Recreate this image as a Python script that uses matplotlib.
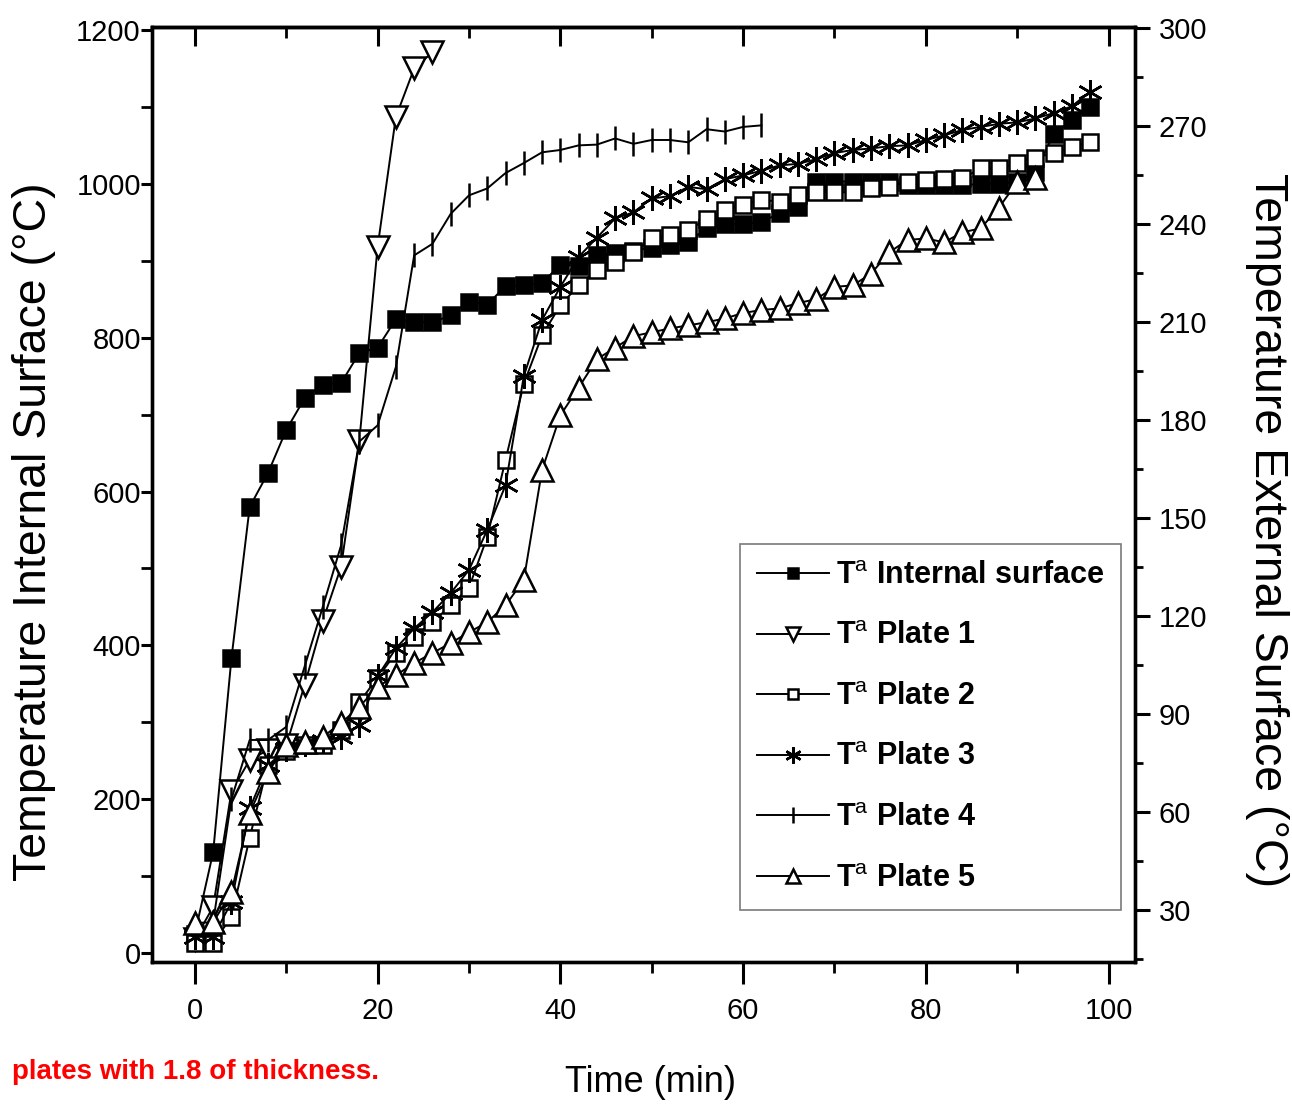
import matplotlib
matplotlib.use("Agg")
import matplotlib.pyplot as plt
from matplotlib.ticker import MultipleLocator

# time axis (min), one reading every 2 min
time_min = [0, 2, 4, 6, 8, 10, 12, 14, 16, 18, 20, 22, 24, 26, 28, 30, 32, 34, 36, 38,
            40, 42, 44, 46, 48, 50, 52, 54, 56, 58, 60, 62, 64, 66, 68, 70, 72, 74, 76, 78,
            80, 82, 84, 86, 88, 90, 92, 94, 96, 98]

t_internal = [25, 131, 383, 580, 624, 680, 721, 739, 741, 780, 787, 824, 820, 820, 829, 847, 843,
              867, 868, 871, 895, 893, 907, 910, 913, 917, 920, 924, 942, 948, 948, 950, 962, 970,
              1003, 1003, 1003, 1003, 1003, 998, 998, 998, 998, 1000, 1000, 1003, 1015, 1065, 1083, 1100]
t_plate1 = [18, 60, 210, 251, 264, 270, 348, 432, 502, 666, 918, 1087, 1150, 1171]
t_plate2 = [13, 13, 47, 150, 245, 262, 270, 270, 290, 326, 358, 390, 411, 430, 452, 475, 541,
            641, 740, 803, 842, 868, 888, 899, 911, 929, 934, 940, 954, 966, 973, 979, 977, 985,
            989, 989, 989, 994, 996, 1003, 1005, 1006, 1007, 1020, 1020, 1027, 1034, 1040, 1048, 1054]
t_plate3 = [21, 21, 66, 188, 244, 265, 272, 275, 281, 296, 360, 396, 422, 443, 468, 498, 550,
            608, 750, 823, 866, 905, 930, 955, 963, 981, 984, 996, 993, 1006, 1011, 1017, 1024, 1026,
            1032, 1040, 1044, 1046, 1049, 1050, 1057, 1063, 1070, 1074, 1078, 1080, 1085, 1092, 1101, 1120]
t_plate4 = [22, 40, 200, 277, 277, 294, 372, 450, 530, 665, 686, 762, 907, 922, 961, 985, 994,
            1014, 1027, 1041, 1044, 1050, 1051, 1059, 1052, 1057, 1057, 1054, 1071, 1068, 1074, 1076]
t_plate5 = [39, 40, 79, 182, 235, 270, 274, 281, 299, 320, 346, 361, 377, 390, 403, 417, 430,
            452, 485, 628, 699, 735, 772, 787, 802, 807, 812, 816, 820, 825, 832, 836, 838, 845,
            850, 866, 868, 883, 911, 927, 929, 924, 937, 942, 969, 1002, 1007]

FONT = ["Liberation Sans", "DejaVu Sans"]
plt.rcParams["font.family"] = FONT
plt.rcParams["mathtext.fontset"] = "custom"
plt.rcParams["mathtext.rm"] = "Liberation Sans"
plt.rcParams["mathtext.bf"] = "Liberation Sans:bold"

fig = plt.figure(figsize=(12.92, 11.11), dpi=100)
ax = fig.add_axes([0.1176, 0.1341, 0.7609, 0.8416])

series = [
    (t_internal, dict(marker="s", mfc="black", ms=11), r"T$^{\mathrm{a}}$ Internal surface"),
    (t_plate1, dict(marker="v", mfc="white", ms=16), r"T$^{\mathrm{a}}$ Plate 1"),
    (t_plate2, dict(marker="s", mfc="white", ms=11), r"T$^{\mathrm{a}}$ Plate 2"),
    (t_plate3, dict(marker=(6, 2, 0), mfc="black", ms=18), r"T$^{\mathrm{a}}$ Plate 3"),
    (t_plate4, dict(marker="|", mfc="black", ms=17), r"T$^{\mathrm{a}}$ Plate 4"),
    (t_plate5, dict(marker="^", mfc="white", ms=16), r"T$^{\mathrm{a}}$ Plate 5"),
]
for vals, st, lab in series:
    ax.plot(time_min[:len(vals)], vals, color="black", lw=1.4, mec="black", mew=1.8,
            label=lab, **st)

ax.set_xlim(-4.7, 102.9)
ax.set_ylim(-11.7, 1203.9)
ax.xaxis.set_major_locator(MultipleLocator(20))
ax.xaxis.set_minor_locator(MultipleLocator(10))
ax.yaxis.set_major_locator(MultipleLocator(200))
ax.yaxis.set_minor_locator(MultipleLocator(100))
ax.tick_params(axis="x", which="major", direction="out", length=16, width=2.2,
               labelsize=21, pad=9, top=False)
ax.tick_params(axis="x", which="minor", direction="out", length=8, width=2.0, top=False)
ax.tick_params(axis="y", which="major", direction="out", length=8, width=2.2,
               labelsize=21, pad=0, right=False)
ax.tick_params(axis="y", which="minor", direction="out", length=8, width=2.0, right=False)
for sp in ax.spines.values():
    sp.set_linewidth(2.4)

# top ticks pointing inward, no labels
top = ax.secondary_xaxis("top")
top.xaxis.set_major_locator(MultipleLocator(20))
top.xaxis.set_minor_locator(MultipleLocator(10))
top.tick_params(which="major", direction="in", length=14, width=2.2, labeltop=False)
top.tick_params(which="minor", direction="in", length=8, width=2.0)
top.spines["top"].set_linewidth(2.4)

# right axis: external surface scale
ax2 = ax.twinx()
ax2.set_ylim(14.1, 300.3)
ax2.yaxis.set_major_locator(MultipleLocator(30))
ax2.yaxis.set_minor_locator(MultipleLocator(15))
ax2.tick_params(which="major", direction="out", length=11, width=2.2, labelsize=21, pad=6)
ax2.tick_params(which="minor", direction="out", length=6, width=2.0)
for sp in ax2.spines.values():
    sp.set_linewidth(2.4)

ax.set_xlabel("Time (min)", fontsize=26, va="center")
ax.xaxis.set_label_coords(0.5076, -0.129)
ax.set_ylabel("Temperature Internal Surface (°C)", fontsize=33.5, va="center")
ax.yaxis.set_label_coords(-0.120, 0.46)
ax2.set_ylabel("Temperature External Surface (°C)", fontsize=33.5, rotation=-90, va="center")
ax2.yaxis.set_label_coords(1.134, 0.462)

leg = ax.legend(loc="upper left", bbox_to_anchor=(740 / 1292, 1 - 544 / 1111),
                bbox_transform=fig.transFigure, frameon=True, fancybox=False,
                prop=dict(family=FONT, weight="bold", size=22),
                markerscale=0.65, handlelength=2.35, handletextpad=0.25,
                labelspacing=1.0, borderpad=0.55, borderaxespad=0)
leg.get_frame().set_edgecolor("0.35")
leg.get_frame().set_linewidth(1.2)

fig.text(12 / 1292, 1 - 1072 / 1111, "plates with 1.8 of thickness.", color="red",
         fontsize=20, fontweight="bold", va="center", ha="left")

fig.savefig("out.png", dpi=100)
